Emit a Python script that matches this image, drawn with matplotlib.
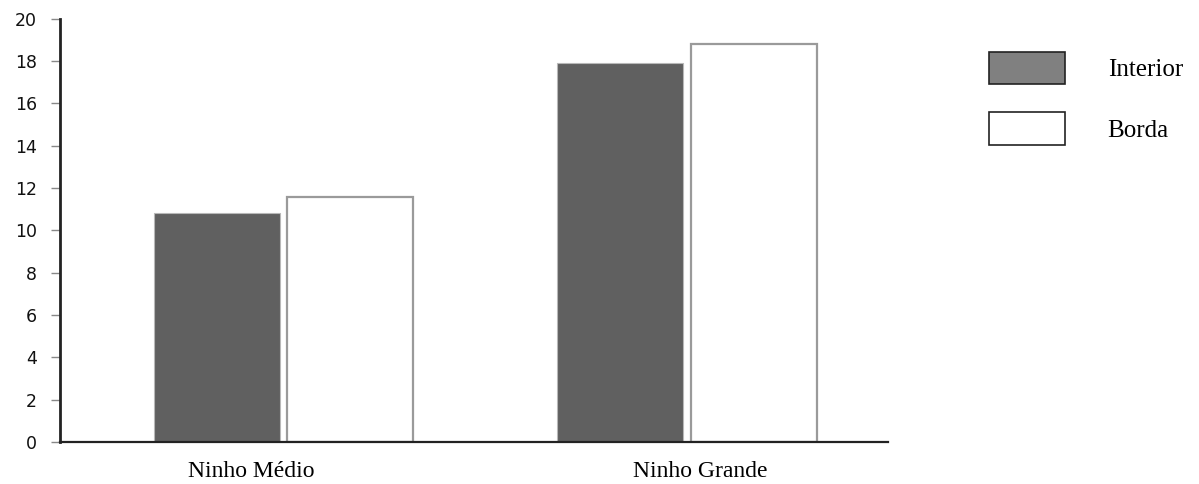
import numpy as np
import matplotlib
matplotlib.use("Agg")
import matplotlib.pyplot as plt
from matplotlib.patches import Patch

# data
categorias = ["Ninho Médio", "Ninho Grande"]
interior = [10.8, 17.9]
borda = [11.6, 18.8]
yticks = list(range(0, 21, 2))

fig = plt.figure(figsize=(11.99, 4.84), dpi=100)
ax = fig.add_axes([0.050, 0.087, 0.691, 0.874])

x = np.arange(len(categorias))
largura = 0.312
ax.bar(x - 0.164, interior, width=largura, color="#606060",
       edgecolor="#b8b8b8", linewidth=0.8)
ax.bar(x + 0.167, borda, width=largura, color="white",
       edgecolor="#9a9a9a", linewidth=1.6)

ax.set_xlim(-0.553, 1.501)
ax.set_ylim(0, 20)
ax.set_yticks(yticks)
ax.set_yticklabels([str(v) for v in yticks], fontsize=12.5,
                   family="DejaVu Sans", color="#111111")
# the labels in the original sit a little off the group centres
desvio = np.array([-0.079, 0.035])
ax.set_xticks(x + desvio)
ax.set_xticklabels(categorias, fontsize=17, family="Liberation Serif")

for s in ["top", "right"]:
    ax.spines[s].set_visible(False)
ax.spines["left"].set_linewidth(2.0)
ax.spines["left"].set_color("#222222")
ax.spines["bottom"].set_linewidth(1.6)
ax.spines["bottom"].set_color("#222222")
ax.tick_params(axis="y", length=6.5, width=1, color="#888888", pad=10)
ax.tick_params(axis="x", length=0, pad=14)

handles = [Patch(facecolor="#808080", edgecolor="#222222", linewidth=1.2),
           Patch(facecolor="white", edgecolor="#222222", linewidth=1.2)]
leg = fig.legend(handles, ["Interior", "Borda"], loc="upper left",
                 bbox_to_anchor=(0.825, 0.893), frameon=False,
                 prop={"family": "Liberation Serif", "size": 18},
                 handlelength=3.04, handleheight=1.62, labelspacing=1.12,
                 handletextpad=1.7, borderaxespad=0, borderpad=0)

fig.savefig("out.png", dpi=100)
